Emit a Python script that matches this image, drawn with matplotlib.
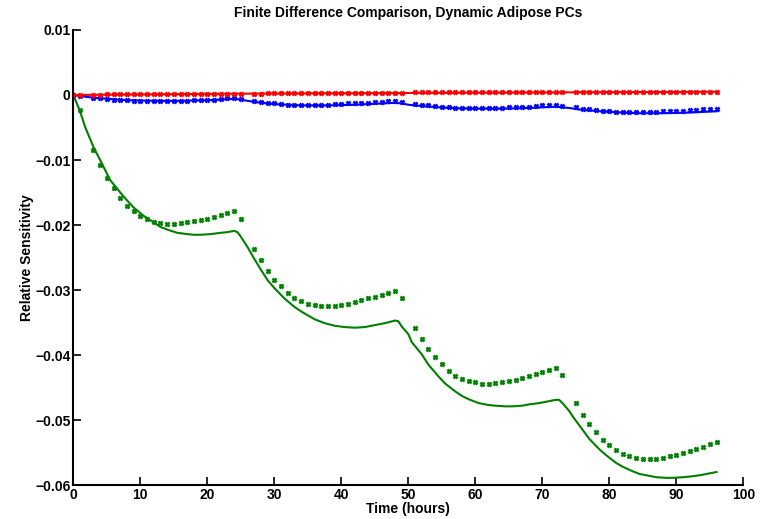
import numpy as np
import matplotlib.pyplot as plt

plt.rcParams['font.family'] = ['Liberation Sans Narrow', 'Liberation Sans', 'DejaVu Sans']
plt.rcParams['font.weight'] = 'bold'
plt.rcParams['font.size'] = 10

# hours with a finite-difference estimate (hours 2, 26, 50, 74 have none)
fd_hours = [0, 1] + list(range(3, 26)) + list(range(27, 50)) + list(range(51, 74)) + list(range(75, 97))

# finite difference estimates, one value per hour in fd_hours
fd_green = [0, -0.0023,
            -0.0085, -0.0107, -0.0128, -0.0143, -0.0158, -0.0170, -0.0178, -0.0186, -0.0191, -0.0195,
            -0.0197, -0.0198, -0.0198, -0.0197, -0.0196, -0.0194, -0.0192, -0.0190, -0.0187, -0.0184,
            -0.0181, -0.0178, -0.0190,
            -0.0237, -0.0254, -0.0270, -0.0284, -0.0294, -0.0304, -0.0312, -0.0317, -0.0321, -0.0323,
            -0.0325, -0.0325, -0.0325, -0.0323, -0.0321, -0.0319, -0.0316, -0.0313, -0.0310, -0.0307,
            -0.0304, -0.0302, -0.0312,
            -0.0358, -0.0376, -0.0391, -0.0403, -0.0414, -0.0425, -0.0432, -0.0437, -0.0440, -0.0442,
            -0.0444, -0.0444, -0.0443, -0.0442, -0.0440, -0.0438, -0.0435, -0.0432, -0.0429, -0.0426,
            -0.0423, -0.0420, -0.0430,
            -0.0474, -0.0492, -0.0506, -0.0519, -0.0530, -0.0539, -0.0546, -0.0552, -0.0556, -0.0558,
            -0.0560, -0.0560, -0.0560, -0.0558, -0.0556, -0.0554, -0.0550, -0.0547, -0.0544, -0.0541,
            -0.0537, -0.0534]

fd_blue = [0, -0.0002,
           -0.0004, -0.0005, -0.0006, -0.0007, -0.0008, -0.0008, -0.0009, -0.0009, -0.0009, -0.0009,
           -0.0009, -0.0009, -0.0009, -0.0009, -0.0009, -0.0008, -0.0008, -0.0007, -0.0007, -0.0006,
           -0.0005, -0.0004, -0.0006,
           -0.0009, -0.0011, -0.0012, -0.0013, -0.0014, -0.0015, -0.0015, -0.0015, -0.0015, -0.0015,
           -0.0015, -0.0015, -0.0014, -0.0014, -0.0013, -0.0013, -0.0012, -0.0012, -0.0011, -0.0011,
           -0.0010, -0.0009, -0.0011,
           -0.0014, -0.0015, -0.0016, -0.0017, -0.0018, -0.0019, -0.0020, -0.0020, -0.0020, -0.0020,
           -0.0020, -0.0020, -0.0020, -0.0020, -0.0019, -0.0019, -0.0018, -0.0018, -0.0017, -0.0016,
           -0.0016, -0.0015, -0.0017,
           -0.0019, -0.0021, -0.0022, -0.0023, -0.0024, -0.0025, -0.0026, -0.0026, -0.0026, -0.0026,
           -0.0026, -0.0026, -0.0026, -0.0025, -0.0025, -0.0024, -0.0024, -0.0023, -0.0023, -0.0022,
           -0.0022, -0.0021]

fd_red = [0, 0.0000,
          0.0000, 0.0000, 0.0001, 0.0001, 0.0001, 0.0001, 0.0001, 0.0001, 0.0001, 0.0001,
          0.0001, 0.0001, 0.0001, 0.0002, 0.0002, 0.0002, 0.0002, 0.0002, 0.0002, 0.0002,
          0.0002, 0.0002, 0.0002,
          0.0002, 0.0002, 0.0003, 0.0003, 0.0003, 0.0003, 0.0003, 0.0003, 0.0003, 0.0003,
          0.0003, 0.0003, 0.0003, 0.0003, 0.0003, 0.0003, 0.0003, 0.0003, 0.0003, 0.0003,
          0.0003, 0.0003, 0.0003,
          0.0004, 0.0004, 0.0004, 0.0004, 0.0004, 0.0004, 0.0004, 0.0004, 0.0004, 0.0004,
          0.0004, 0.0004, 0.0004, 0.0004, 0.0004, 0.0004, 0.0004, 0.0004, 0.0004, 0.0004,
          0.0004, 0.0004, 0.0004,
          0.0005, 0.0005, 0.0005, 0.0005, 0.0005, 0.0005, 0.0005, 0.0005, 0.0005, 0.0005,
          0.0005, 0.0005, 0.0005, 0.0005, 0.0005, 0.0005, 0.0005, 0.0005, 0.0005, 0.0005,
          0.0005, 0.0005]

# sensitivity solutions (solid lines)
green_t = [0, 1, 1.75, 3, 4, 5.5, 7, 8, 9, 10.5, 12, 13, 14, 15.5, 17, 18, 19, 20.5, 22, 23, 24,
           24.5, 25, 26, 27, 28, 29, 30, 31.5, 33, 34, 35, 36, 37.5, 39, 40.5, 42, 43.5, 45, 46.5,
           48, 48.5, 49, 50, 50.5, 52, 53, 54.5, 55.5, 57, 58, 59, 60.5, 62, 63, 64.5, 65.5, 67,
           68, 69.5, 70.5, 72, 72.5, 73, 74, 74.5, 76, 77, 78.5, 79.5, 81, 82, 83.5, 84.5, 86, 87,
           88.5, 89.5, 91, 92, 93.5, 94.5, 96]
green_s = [0, -0.0025, -0.0049, -0.0080, -0.0100, -0.0131, -0.0150, -0.0162, -0.0173, -0.0186,
           -0.0196, -0.0203, -0.0207, -0.0212, -0.0214, -0.0215, -0.0215, -0.0214, -0.0212,
           -0.0211, -0.0209, -0.0211, -0.0218, -0.0234, -0.0252, -0.0269, -0.0285, -0.0297,
           -0.0313, -0.0326, -0.0333, -0.0339, -0.0345, -0.0351, -0.0355, -0.0357, -0.0358,
           -0.0357, -0.0354, -0.0351, -0.0347, -0.0348, -0.0356, -0.0368, -0.0380, -0.0399,
           -0.0415, -0.0433, -0.0444, -0.0456, -0.0463, -0.0468, -0.0474, -0.0477, -0.0478,
           -0.0479, -0.0479, -0.0478, -0.0476, -0.0474, -0.0472, -0.0469, -0.0469, -0.0474,
           -0.0486, -0.0494, -0.0515, -0.0529, -0.0545, -0.0554, -0.0566, -0.0572, -0.0579,
           -0.0583, -0.0586, -0.0588, -0.0589, -0.0589, -0.0588, -0.0587, -0.0585, -0.0583, -0.0580]

blue_t = [0, 2, 4, 8, 12, 16, 20, 24, 25, 26, 28, 30, 34, 38, 42, 46, 48, 49, 50, 52, 56,
          60, 64, 68, 72, 73, 74, 76, 80, 84, 88, 92, 96]
blue_s = [0, -0.0003, -0.0005, -0.0008, -0.0009, -0.0009, -0.0008, -0.0006, -0.0007, -0.0009,
          -0.0012, -0.0014, -0.0016, -0.0016, -0.0015, -0.0013, -0.0012, -0.0013, -0.0015,
          -0.0017, -0.0020, -0.0021, -0.0021, -0.0020, -0.0018, -0.0019, -0.0020, -0.0023,
          -0.0026, -0.0028, -0.0028, -0.0027, -0.0025]

red_t = [0, 12, 24, 48, 72, 96]
red_s = [0, 0.0001, 0.0002, 0.0003, 0.0004, 0.0005]

y_ticks = [-0.06, -0.05, -0.04, -0.03, -0.02, -0.01, 0, 0.01]

fig = plt.figure(figsize=(7.64, 5.19), dpi=100)
ax = fig.add_axes([0.096, 0.0655, 0.877, 0.8767])

for t, s, fd, c in [(green_t, green_s, fd_green, '#008000'),
                    (blue_t, blue_s, fd_blue, '#0000ff'),
                    (red_t, red_s, fd_red, '#ff0000')]:
    ax.plot(t, s, color=c, lw=1.5)
    ax.plot(fd_hours, fd, ls='none', marker='x', color=c, ms=3.5, mew=1.8)

ax.set_xlim(0, 100)
ax.set_ylim(-0.06, 0.01)
ax.set_xticks(np.arange(0, 101, 10))
ax.set_yticks(y_ticks)
ax.set_yticklabels([('%g' % v).replace('-', '\u2212') for v in y_ticks])
ax.tick_params(direction='in', length=6, width=1.2, labelsize=10, pad=2)
for side in ['top', 'right']:
    ax.spines[side].set_visible(False)
for side in ['left', 'bottom']:
    ax.spines[side].set_linewidth(1.5)

ax.set_title('Finite Difference Comparison, Dynamic Adipose PCs', fontsize=10, fontweight='bold', pad=9)
ax.set_xlabel('Time (hours)', fontsize=10, fontweight='bold', labelpad=0)
ax.set_ylabel('Relative Sensitivity', fontsize=10, fontweight='bold', labelpad=1)

fig.savefig('out.png', dpi=100)
